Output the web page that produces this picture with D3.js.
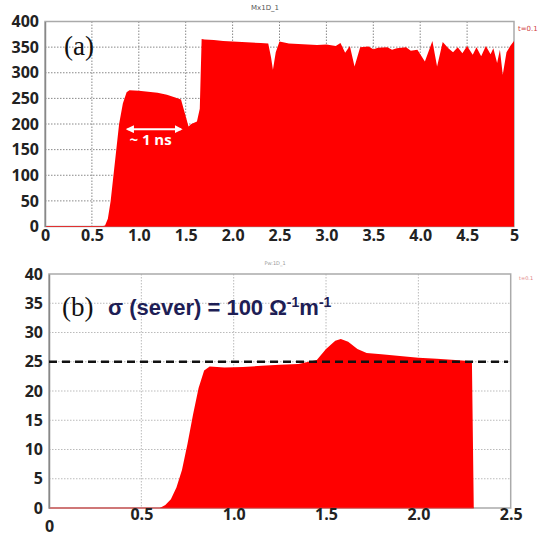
<!DOCTYPE html>
<html lang="en">
<head>
    <meta charset="UTF-8">
    <title>Field vs time</title>
    <style>
        body { margin: 0; background: #fff; }
        svg { display: block; }
        .tick text { font-family: "Open Sans", sans-serif; font-weight: bold; fill: #222; }
    </style>
</head>
<body>

    <div id="d3-container"></div>

    <script src="https://d3js.org/d3.v7.min.js"></script>
    <script>
        // (a) top panel
        const timeA = [0, 0.6, 0.64, 0.67, 0.7, 0.73, 0.76, 0.79, 0.83, 0.87, 0.9, 1.0, 1.1, 1.2, 1.3, 1.38, 1.45,
            1.5, 1.53, 1.56, 1.62, 1.65, 1.67, 1.7, 1.8, 1.9, 2.0, 2.1, 2.2, 2.3, 2.38, 2.41, 2.43, 2.46, 2.5,
            2.6, 2.7, 2.8, 2.9, 3.0, 3.1, 3.15, 3.2, 3.25, 3.3, 3.36, 3.45, 3.5, 3.55, 3.65, 3.7, 3.75, 3.85, 3.9, 3.97,
            4.05, 4.13, 4.18, 4.24, 4.3, 4.35, 4.4, 4.45, 4.5, 4.56, 4.6, 4.65, 4.7, 4.75, 4.78, 4.82, 4.85,
            4.88, 4.92, 4.96, 5.0];
        const valueA = [0, 0, 2, 15, 50, 100, 150, 200, 240, 262, 266, 265, 263, 261, 257, 252, 248,
            215, 195, 200, 205, 230, 366, 365, 364, 362, 361, 360, 359, 358, 357, 330, 306, 340, 361,
            357, 356, 355, 354, 355, 352, 358, 339, 352, 312, 350, 351, 346, 349, 350, 345, 348, 350, 343, 345,
            322, 362, 312, 360, 348, 340, 350, 338, 352, 335, 350, 332, 352, 336, 348, 319, 345,
            296, 340, 352, 362];
        const ticksXA = [0, 0.5, 1.0, 1.5, 2.0, 2.5, 3.0, 3.5, 4.0, 4.5, 5];
        const ticksYA = [0, 50, 100, 150, 200, 250, 300, 350, 400];

        // (b) bottom panel
        const timeB = [0, 0.6, 0.63, 0.66, 0.69, 0.72, 0.75, 0.78, 0.81, 0.84, 0.87, 0.95, 1.05, 1.15, 1.25,
            1.35, 1.45, 1.5, 1.55, 1.58, 1.62, 1.67, 1.72, 1.8, 1.9, 2.0, 2.1, 2.2, 2.29, 2.3];
        const valueB = [0, 0, 0.5, 1.5, 3.5, 6.5, 11, 16, 20.5, 23.5, 24.2, 24.0, 24.1, 24.3, 24.5,
            24.6, 25.3, 27.2, 28.6, 28.9, 28.4, 27.2, 26.5, 26.3, 26.0, 25.7, 25.5, 25.3, 25.1, 0];
        const ticksXB = [0, 0.5, 1.0, 1.5, 2.0, 2.5];
        const ticksYB = [0, 5, 10, 15, 20, 25, 30, 35, 40];
        const thresholdB = 25;

        const width = 540;
        const height = 537;

        const svg = d3.select('#d3-container')
            .append('svg')
            .attr('width', width)
            .attr('height', height)
            .attr('viewBox', [0, 0, width, height]);

        function panel(cfg) {
            const x = d3.scaleLinear().domain(cfg.xDomain).range([cfg.left, cfg.right]);
            const y = d3.scaleLinear().domain(cfg.yDomain).range([cfg.bottom, cfg.top]);
            const g = svg.append('g');

            // dotted grid
            g.append('g').selectAll('line.h')
                .data(cfg.yTicks.slice(1, -1))
                .join('line')
                .attr('x1', cfg.left).attr('x2', cfg.right)
                .attr('y1', d => y(d)).attr('y2', d => y(d))
                .attr('stroke', cfg.gridColor).attr('stroke-dasharray', '1.5,1.5');
            g.append('g').selectAll('line.v')
                .data(cfg.xTicks.slice(1, -1))
                .join('line')
                .attr('x1', d => x(d)).attr('x2', d => x(d))
                .attr('y1', cfg.top).attr('y2', cfg.bottom)
                .attr('stroke', cfg.gridColor).attr('stroke-dasharray', '1.5,1.5');

            // frame
            g.append('rect')
                .attr('x', cfg.left).attr('y', cfg.top)
                .attr('width', cfg.right - cfg.left).attr('height', cfg.bottom - cfg.top)
                .attr('fill', 'none').attr('stroke', '#aaa').attr('stroke-width', 1.5);

            // filled signal
            const area = d3.area()
                .x((d, i) => x(cfg.time[i]))
                .y0(y(0))
                .y1(d => y(d));
            g.append('path')
                .datum(cfg.values)
                .attr('d', area)
                .attr('fill', '#ff0000');
            g.append('line')
                .attr('x1', cfg.left).attr('x2', x(cfg.time[cfg.time.length - 1]))
                .attr('y1', y(0)).attr('y2', y(0))
                .attr('stroke', '#e03030').attr('stroke-width', 1.2);

            // axes
            g.append('g')
                .attr('transform', `translate(${cfg.left},0)`)
                .call(d3.axisLeft(y).tickValues(cfg.yTicks).tickSize(0).tickPadding(6).tickFormat(d3.format('d')))
                .call(a => a.select('.domain').attr('stroke', '#888').attr('stroke-width', 1.5))
                .attr('font-size', 16);
            const xAxis = g.append('g')
                .attr('transform', `translate(0,${cfg.bottom})`)
                .call(d3.axisBottom(x).tickValues(cfg.xTicks).tickSize(0).tickPadding(cfg.xPad).tickFormat(cfg.xFormat))
                .call(a => a.select('.domain').remove())
                .attr('font-size', 16);

            return { g, x, y, xAxis };
        }

        const fmtA = d => (d === 0 || d === 5) ? String(d) : d3.format('.1f')(d);

        const a = panel({
            left: 45, right: 514, top: 21.5, bottom: 226.5,
            xDomain: [0, 5], yDomain: [0, 400],
            xTicks: ticksXA, yTicks: ticksYA,
            time: timeA, values: valueA,
            gridColor: '#888', xPad: 3, xFormat: fmtA
        });

        const b = panel({
            left: 49, right: 510.7, top: 274, bottom: 508,
            xDomain: [0, 2.5], yDomain: [0, 40],
            xTicks: ticksXB, yTicks: ticksYB,
            time: timeB, values: valueB,
            gridColor: '#bbb', xPad: 1, xFormat: d => d === 0 ? '0' : d3.format('.1f')(d)
        });
        // the "0" under panel (b) sits lower than the others
        b.xAxis.selectAll('.tick text').filter(d => d === 0).attr('dy', '1.45em');

        // threshold line in (b)
        b.g.append('line')
            .attr('x1', b.x(0)).attr('x2', 508)
            .attr('y1', b.y(thresholdB)).attr('y2', b.y(thresholdB))
            .attr('stroke', '#111').attr('stroke-width', 2.5).attr('stroke-dasharray', '8,5');

        // panel labels
        svg.append('text').attr('x', 64).attr('y', 55)
            .attr('font-family', 'Liberation Serif, serif').attr('font-size', 27).attr('fill', '#111')
            .text('(a)');
        svg.append('text').attr('x', 62).attr('y', 316)
            .attr('font-family', 'Liberation Serif, serif').attr('font-size', 27).attr('fill', '#111')
            .text('(b)');

        const note = svg.append('text').attr('x', 108).attr('y', 315)
            .attr('font-family', 'Liberation Sans, Arial, sans-serif').attr('font-weight', 'bold')
            .attr('font-size', 22).attr('fill', '#1e1e55');
        note.append('tspan').text('σ (sever) = 100 Ω');
        note.append('tspan').attr('font-size', 14).attr('dy', -8).text('-1');
        note.append('tspan').attr('dy', 8).text('m');
        note.append('tspan').attr('font-size', 14).attr('dy', -8).text('-1');

        // ~1 ns marker in (a)
        const arrowY = a.y(190);
        svg.append('defs').append('marker')
            .attr('id', 'head').attr('viewBox', '0 0 10 10').attr('refX', 8).attr('refY', 5)
            .attr('markerWidth', 4).attr('markerHeight', 4).attr('orient', 'auto-start-reverse')
            .append('path').attr('d', 'M0,0L10,5L0,10z').attr('fill', '#fff');
        svg.append('line')
            .attr('x1', a.x(0.88)).attr('x2', a.x(1.45))
            .attr('y1', arrowY).attr('y2', arrowY)
            .attr('stroke', '#fff').attr('stroke-width', 2)
            .attr('marker-start', 'url(#head)').attr('marker-end', 'url(#head)');
        svg.append('text').attr('x', a.x(0.9)).attr('y', a.y(160))
            .attr('font-family', 'Open Sans, sans-serif').attr('font-weight', 'bold')
            .attr('font-size', 15).attr('fill', '#fff')
            .text('~ 1 ns');

        // tiny simulation captions
        svg.append('text').attr('x', 265).attr('y', 10).attr('text-anchor', 'middle')
            .attr('font-family', 'DejaVu Sans, sans-serif').attr('font-size', 7).attr('fill', '#555')
            .text('Mx1D_1');
        svg.append('text').attr('x', 518).attr('y', 31)
            .attr('font-family', 'DejaVu Sans, sans-serif').attr('font-size', 7).attr('fill', '#d04040')
            .text('t=0.1');
        svg.append('text').attr('x', 275).attr('y', 265).attr('text-anchor', 'middle')
            .attr('font-family', 'DejaVu Sans, sans-serif').attr('font-size', 5).attr('fill', '#999')
            .text('Pw:1D_1');
        svg.append('text').attr('x', 519).attr('y', 280)
            .attr('font-family', 'DejaVu Sans, sans-serif').attr('font-size', 5).attr('fill', '#e08080')
            .text('t=0.1');
    </script>

</body>
</html>
